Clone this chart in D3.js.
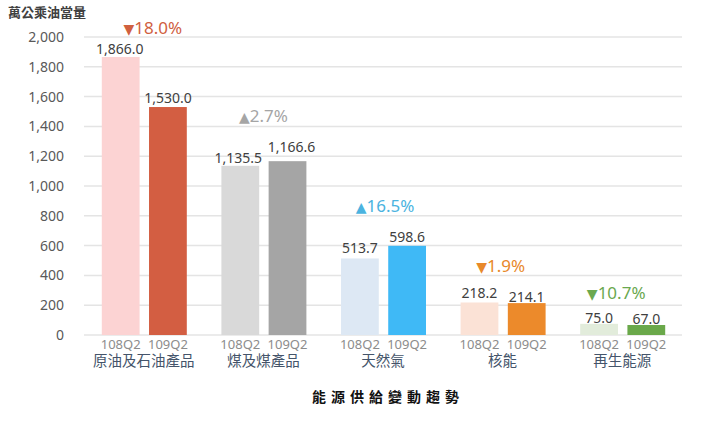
<!DOCTYPE html>
<html><head><meta charset="utf-8">
<script src="https://cdn.jsdelivr.net/npm/d3@7/dist/d3.min.js"></script>
<style>
html,body{margin:0;padding:0;background:#fff;}
svg{display:block;font-family:"Noto Sans","Noto Sans CJK TC",sans-serif;}
</style></head>
<body><svg id="c" width="706" height="430"></svg>
<script>
const categories = ["原油及石油產品","煤及煤產品","天然氣","核能","再生能源"];
const periods = ["108Q2","109Q2"];
const values108 = [1866.0, 1135.5, 513.7, 218.2, 75.0];
const values109 = [1530.0, 1166.6, 598.6, 214.1, 67.0];
const yTicks = [0,200,400,600,800,1000,1200,1400,1600,1800,2000];
const unitLabel = "萬公乘油當量";
const title = "能源供給變動趨勢";

const lightColors = ["#fcd3d3","#d9d9d9","#dde8f4","#fbe2d6","#e2ecdb"];
const darkColors  = ["#d35e42","#a5a5a5","#3fb9f6","#ec8a2b","#6aa84a"];
const pctColors   = ["#d0603f","#a5a5a5","#4bb3e0","#e8892a","#6aa84f"];
const pctLift = [30, 46, 41, 37, 32];
const pctShift = [9, 0, 2, -2, -6];
const valLift = [[2,2,4,3,0],[3,8,3,0,0]];
const valShift = [[-1,-2,0,0,0],[0,4,0,0,0]];

const svg = d3.select("#c");
const m = {l:84, r:24, t:37, b:95};
const W = 706, H = 430;
const x0 = d3.scaleBand().domain(categories).range([m.l, W - m.r]).paddingInner(0).paddingOuter(0);
const x1 = d3.scaleBand().domain(periods).range([x0.bandwidth()/2 - 42, x0.bandwidth()/2 + 43]).paddingInner(0.2);
const y = d3.scaleLinear().domain([0,2000]).range([H - m.b, m.t]);

// grid
svg.append("g").selectAll("line").data(yTicks).join("line")
  .attr("x1", m.l).attr("x2", W - m.r)
  .attr("y1", d => y(d)).attr("y2", d => y(d))
  .attr("stroke", "#e4e4e4").attr("stroke-width", 1.5);

// y axis labels
const yAxis = d3.axisLeft(y).tickValues(yTicks).tickSize(0).tickPadding(0).tickFormat(d3.format(","));
const ya = svg.append("g").attr("transform", `translate(64,0)`).call(yAxis);
ya.select(".domain").remove();
ya.selectAll("text").attr("font-size", 14).attr("fill", "#595959")
  .attr("font-family", '"Noto Sans",sans-serif');

const rows = categories.map((c,i) => ({cat:c, i, vals:[values108[i], values109[i]]}));
const g = svg.append("g").selectAll("g").data(rows).join("g")
  .attr("transform", d => `translate(${x0(d.cat)},0)`);

g.selectAll("rect").data(d => d.vals.map((v,k) => ({v, k, i:d.i}))).join("rect")
  .attr("x", d => x1(periods[d.k])).attr("width", x1.bandwidth())
  .attr("y", d => y(d.v)).attr("height", d => y(0) - y(d.v))
  .attr("fill", d => d.k === 0 ? lightColors[d.i] : darkColors[d.i]);

const fmt = d3.format(",.1f");
g.selectAll("text.val").data(d => d.vals.map((v,k) => ({v, k, i:d.i}))).join("text")
  .attr("class","val")
  .attr("x", d => x1(periods[d.k]) + x1.bandwidth()/2 + valShift[d.k][d.i])
  .attr("y", d => y(d.v) - 1 - valLift[d.k][d.i])
  .attr("text-anchor","middle").attr("font-size", 14).attr("fill", "#404040")
  .text(d => fmt(d.v));

g.selectAll("text.per").data(d => periods.map(p => p)).join("text")
  .attr("class","per")
  .attr("x", p => x1(p) + x1.bandwidth()/2)
  .attr("y", y(0) + 14)
  .attr("text-anchor","middle").attr("font-size", 13).attr("fill", "#8c8c8c")
  .text(p => p);

g.append("text")
  .attr("x", x0.bandwidth()/2).attr("y", y(0) + 31)
  .attr("text-anchor","middle").attr("font-size", 14.5).attr("fill", "#44546a")
  .attr("font-family", '"Noto Sans CJK TC",sans-serif')
  .text(d => d.cat);

// percent change annotations
g.append("text")
  .attr("x", d => x0.bandwidth()/2 + pctShift[d.i])
  .attr("y", d => y(d3.max(d.vals)) - pctLift[d.i] + 7)
  .attr("text-anchor","middle").attr("font-size", 17)
  .attr("fill", d => pctColors[d.i])
  .each(function(d){
    const ch = (d.vals[1] - d.vals[0]) / d.vals[0] * 100;
    const t = d3.select(this);
    t.append("tspan").attr("font-size", 14).attr("font-family",'"DejaVu Sans",sans-serif')
      .text(ch < 0 ? "▼" : "▲");
    t.append("tspan").text(Math.abs(ch).toFixed(1) + "%");
  });

svg.append("text").attr("x", 8).attr("y", 17)
  .attr("font-size", 13).attr("font-weight", "bold").attr("fill", "#404040")
  .attr("font-family", '"Noto Sans CJK TC",sans-serif')
  .text(unitLabel);

svg.append("text").attr("x", 388).attr("y", 402)
  .attr("text-anchor","middle").attr("font-size", 14).attr("font-weight","bold")
  .attr("letter-spacing", 5).attr("fill", "#111")
  .attr("font-family", '"Noto Sans CJK TC",sans-serif')
  .text(title);
</script></body></html>
